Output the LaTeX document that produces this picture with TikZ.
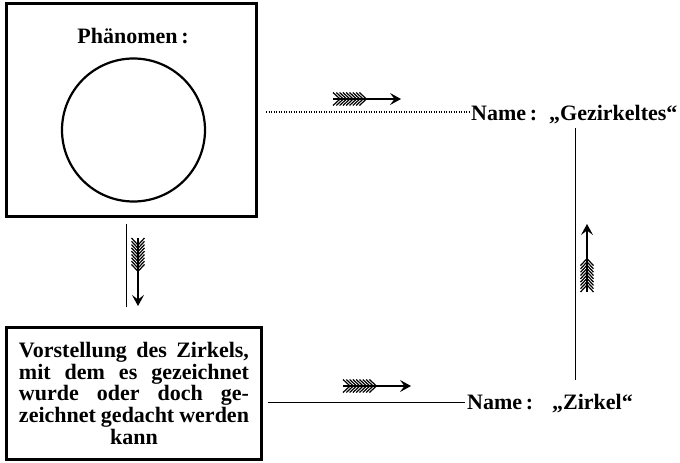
\documentclass[tikz,border=0pt]{standalone}
\usepackage{fontspec}
\setmainfont{Liberation Serif}
\usetikzlibrary{arrows.meta,calc}
\begin{document}
\begin{tikzpicture}[x=1pt,y=-1pt,
  frame/.style={draw,line width=3pt,inner sep=0pt},
  lbl/.style={inner sep=0pt,font=\fontsize{22}{21.7}\selectfont\bfseries},
  link/.style={line width=0.9pt},
  dotlink/.style={line width=1.1pt,dash pattern=on 1pt off 1.5pt},
  fletched/.pic={
    \draw[line width=1.2pt,-{Stealth[length=11pt,width=12pt,inset=4.5pt]}] (0,0) -- (68,0);
    \foreach \k in {0,...,8}
      \draw[line width=1.2pt] ({\k*3.3},-6.5) -- ({\k*3.3+7},0) -- ({\k*3.3},6.5);
  }]
\useasboundingbox (0,0) rectangle (680,463);

% upper frame with the circle
\node[frame,minimum width=250pt,minimum height=212.5pt] (phen) at (131.5,109.75) {};
\node[lbl,anchor=base] (phenlbl) at (133,43) {Phänomen\,:};
\node[draw,circle,line width=2.2pt,minimum size=143pt,inner sep=0pt] (circ) at (133.5,130) {};

% lower frame with the description
\node[frame,minimum width=255pt,minimum height=132.5pt,lbl,align=center] (vorst) at (134,393.25)
  {\makebox[230pt][s]{Vorstellung des Zirkels,}\\
   \makebox[230pt][s]{mit dem es gezeichnet}\\
   \makebox[230pt][s]{wurde oder doch ge-}\\
   \makebox[230pt][s]{zeichnet gedacht werden}\\
   kann};

% names
\node[lbl,anchor=base west] (name1) at (471,120) {Name\,:\hspace{12pt}„Gezirkeltes“};
\node[lbl,anchor=base west] (name2) at (467,409) {Name\,:\hspace{19pt}„Zirkel“};
\coordinate (vx) at (575,0);

% connectors
\draw[dotlink] ($(phen.east |- name1.base west)+(8,-8)$) -- ($(name1.base west)+(-2,-8)$);
\draw[link] ($(vorst.east |- name2.base west)+(4.5,-7)$) -- ($(name2.base west)+(-2,-7)$);
\draw[link] ($(phen.south)+(-5.5,6)$) -- ($(vorst.north)+(-8,-19)$);
\draw[link] ($(name1.base west -| vx)+(0,8)$) -- ($(name2.base west -| vx)+(0,-29)$);

% feathered arrows
\pic at (333,99) {fletched};
\pic at (343,386) {fletched};
\pic[rotate=-90] at (138,238) {fletched};
\pic[rotate=90] at (587,292) {fletched};
\end{tikzpicture}
\end{document}
